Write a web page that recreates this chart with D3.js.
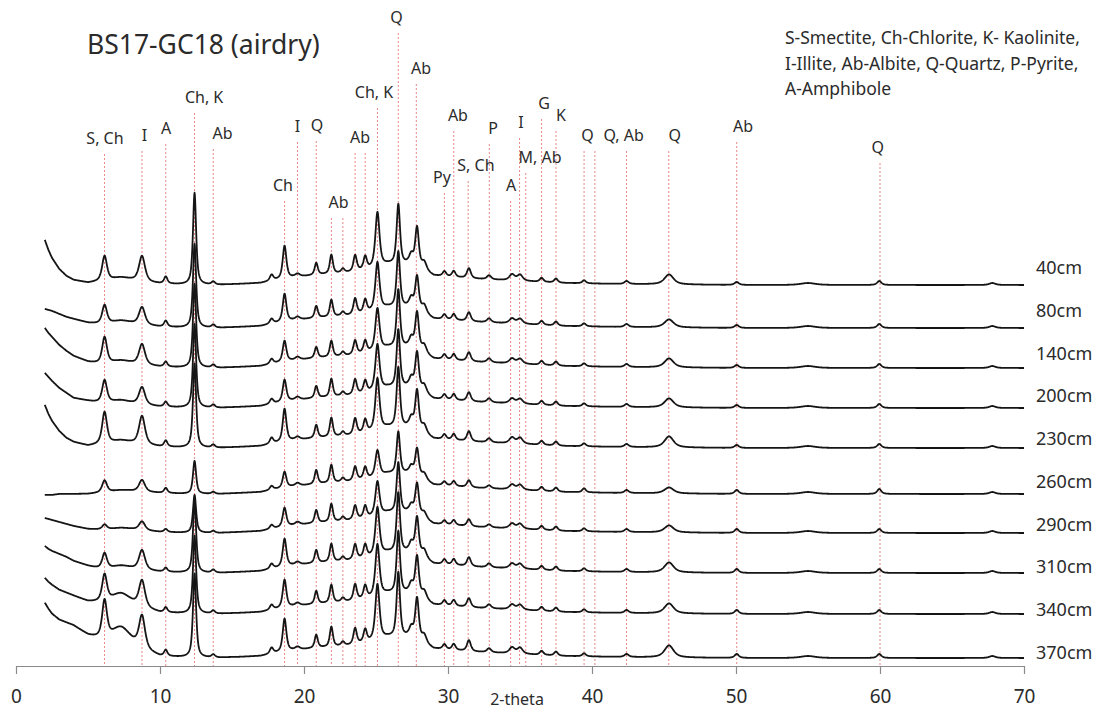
<!DOCTYPE html>
<html>
<head>
<meta charset="utf-8">
<script src="https://cdn.jsdelivr.net/npm/d3@7"></script>
<style>
  html, body { margin: 0; padding: 0; background: #fff; }
  svg { display: block; font-family: "Noto Sans", "Open Sans", sans-serif; }
</style>
</head>
<body>
<svg id="chart" width="1099" height="711"></svg>
<script>
// ---- sample depths and the vertical stacking offset of each pattern (intensity units) ----
const depths  = ["40cm", "80cm", "140cm", "200cm", "230cm", "260cm", "290cm", "310cm", "340cm", "370cm"];
const offsets = [381, 338, 298, 258, 218, 173, 133, 93, 52, 10];

// ---- reflections: position (°2θ) and full width at half maximum (°) ----
const peakPos   = [6.15, 7.3, 8.75, 10.4, 12.4, 13.7, 17.75, 18.65, 19.55, 20.85, 21.9, 22.7, 23.55, 24.25,
                   25.1, 26.55, 27.45, 27.85, 28.35, 29.75, 30.4, 31.45, 32.85, 34.45, 35.0, 36.5, 37.5,
                   39.45, 42.4, 45.35, 50.05, 55.0, 59.95, 67.8];
const peakWidth = [0.4, 1.6, 0.5, 0.28, 0.26, 0.3, 0.3, 0.3, 0.4, 0.26, 0.26, 0.3, 0.28, 0.28,
                   0.34, 0.28, 0.35, 0.3, 0.4, 0.3, 0.3, 0.32, 0.35, 0.45, 0.45, 0.3, 0.3,
                   0.3, 0.35, 0.75, 0.35, 1.2, 0.35, 0.5];

// ---- peak intensities for each depth (same order as peakPos) ----
const int40cm  = [25, 4, 26, 7, 92, 3, 6, 33, 3, 12, 19, 4, 16, 13, 55, 60, 10, 40, 8, 5, 6, 10, 4, 6, 6, 4, 4, 3, 3, 10, 3, 2, 4, 2];
const int80cm  = [19, 4, 18, 6, 84, 3, 5, 28, 3, 12, 17, 4, 16, 13, 48, 56, 10, 34, 8, 5, 6, 9, 4, 5, 5, 4, 4, 3, 3, 8, 3, 2, 4, 2];
const int140cm = [27, 4, 21, 5, 84, 3, 5, 21, 3, 11, 16, 4, 14, 12, 42, 58, 10, 38, 8, 5, 6, 9, 4, 5, 5, 4, 4, 3, 3, 9, 3, 2, 4, 2];
const int200cm = [23, 4, 18, 5, 84, 3, 5, 22, 3, 12, 18, 4, 15, 12, 46, 58, 10, 38, 8, 5, 6, 9, 4, 5, 5, 4, 4, 3, 3, 9, 3, 2, 4, 2];
const int230cm = [32, 4, 29, 6, 84, 3, 6, 33, 3, 13, 19, 4, 16, 13, 52, 60, 10, 40, 8, 5, 6, 10, 4, 6, 6, 4, 4, 3, 3, 11, 3, 2, 4, 2];
const int260cm = [12, 2, 12, 5, 33, 2, 4, 16, 3, 14, 18, 4, 14, 12, 26, 42, 8, 28, 6, 4, 5, 7, 3, 5, 5, 4, 4, 4, 3, 6, 4, 2, 5, 2];
const int290cm = [5, 2, 9, 3, 38, 2, 4, 19, 3, 13, 18, 4, 14, 12, 34, 50, 8, 32, 6, 4, 5, 7, 3, 5, 5, 4, 4, 3, 3, 7, 4, 2, 4, 2];
const int310cm = [16, 4, 20, 4, 72, 3, 5, 28, 3, 13, 18, 4, 15, 13, 48, 60, 10, 38, 8, 5, 6, 9, 4, 5, 5, 4, 4, 3, 3, 10, 4, 2, 4, 2];
const int340cm = [27, 12, 27, 5, 78, 3, 5, 28, 3, 13, 18, 4, 16, 13, 52, 62, 10, 40, 8, 5, 6, 9, 4, 5, 5, 4, 4, 3, 3, 10, 4, 2, 4, 2];
const int370cm = [38, 18, 33, 6, 84, 3, 6, 33, 3, 13, 20, 4, 16, 13, 56, 65, 10, 42, 8, 5, 6, 11, 4, 6, 6, 4, 4, 3, 3, 12, 4, 2, 4, 2];

// ---- low-angle scattering rise for each depth, sampled at lowT (°2θ) ----
const lowT     = [2, 2.25, 2.5, 3, 3.5, 4, 5, 6, 8, 10];
const low40cm  = [42, 32, 24, 13, 6, 2, -1, 0, 0, 0];
const low80cm  = [16, 15, 14, 11, 8, 6, 2, 0, 0, 0];
const low140cm = [37, 32, 28, 20, 14, 9, 3, 0, 0, 0];
const low200cm = [32, 28, 24, 17, 12, 7, 4, 1, 0, 0];
const low230cm = [40, 31, 24, 14, 7, 3, -1, 0, 0, 0];
const low260cm = [-5, -5, -5, -4, -4, -4, -4, -3, -2, -1];
const low290cm = [12, 11, 10, 8, 6, 4, 1, 0, 0, 0];
const low310cm = [24, 21, 19, 16, 13, 9, 4, 0, 0, 0];
const low340cm = [33, 29, 26, 21, 18, 15, 9, 7, 4, 0];
const low370cm = [50, 44, 39, 33, 30, 27, 17, 11, 5, -2];

// ---- common background hump, sampled at bgT (°2θ) ----
const bgT = [2, 6, 8, 10, 12, 14, 17, 19, 21, 23, 24.5, 25.8, 27.2, 28.3, 29, 30, 32, 35, 38, 42, 50, 70];
const bgV = [3, 3, 3, 1, 0, 0, 2, 7, 10, 12, 15, 20, 20, 14, 9, 8, 6, 4, 2, 1, 0, 0];

// ---- mineral reference lines: text, label anchor (°2θ), label level (intensity units) ----
const refLabels = [
  ["S, Ch", 6.18, 522], ["I", 8.93, 525], ["A", 10.42, 532], ["Ch, K", 13.06, 563], ["Ab", 14.34, 527],
  ["Ch", 18.54, 475], ["I", 19.55, 534], ["Q", 20.9, 535], ["Ab", 22.4, 458], ["Ab", 23.9, 523],
  ["Ch, K", 24.86, 568], ["Q", 26.42, 643], ["Ab", 28.13, 592], ["Py", 29.58, 483], ["Ab", 30.69, 545],
  ["S, Ch", 31.94, 495], ["P", 33.13, 532], ["A", 34.38, 475], ["I", 35.07, 538], ["M, Ab", 36.39, 503],
  ["G", 36.67, 557], ["K", 37.85, 545], ["Q", 39.69, 525], ["Q, Ab", 42.2, 525], ["Q", 45.74, 525],
  ["Ab", 50.49, 534], ["Q", 59.84, 513]
];
// line position (°2θ) and the label it hangs from
const refLines = [
  [6.15, 0], [8.75, 1], [10.4, 2], [12.4, 3], [13.7, 4], [18.65, 5], [19.55, 6], [20.85, 7],
  [21.9, 8], [22.7, 8], [23.55, 9], [24.25, 9], [25.1, 10], [26.55, 11], [27.8, 12], [29.75, 13],
  [30.4, 14], [31.4, 15], [32.87, 16], [34.35, 17], [34.97, 18], [35.4, 19], [36.5, 20], [37.5, 21],
  [39.45, 22], [40.2, 23], [42.4, 23], [45.33, 24], [50.05, 25], [60.0, 26]
];

const legendLines = ["S-Smectite, Ch-Chlorite, K- Kaolinite,", "I-Illite, Ab-Albite, Q-Quartz, P-Pyrite,", "A-Amphibole"];
const xTicks = [0, 10, 20, 30, 40, 50, 60, 70];
const titleText = "BS17-GC18 (airdry)";

// ---------------------------------------------------------------------------
const intensities = [int40cm, int80cm, int140cm, int200cm, int230cm, int260cm, int290cm, int310cm, int340cm, int370cm];
const lows = [low40cm, low80cm, low140cm, low200cm, low230cm, low260cm, low290cm, low310cm, low340cm, low370cm];

const svg = d3.select("#chart");
const x = d3.scaleLinear().domain([0, 70]).range([16, 1024]);
const y = d3.scaleLinear().domain([0, 650]).range([666, 16]);

const bgScale = d3.scaleLinear().domain(bgT).range(bgV).clamp(true);

// pseudo-Voigt line shape (mostly Lorentzian), 1 at the peak centre
function shape(t, c, w) {
  const d = (t - c) / (w / 2);
  return 0.7 / (1 + d * d) + 0.3 * Math.exp(-Math.LN2 * d * d);
}

const steps = d3.range(2, 70.0001, 0.02);
const patterns = depths.map((name, i) => {
  const low = d3.scaleLinear().domain(lowT).range(lows[i]).clamp(true);
  const h = intensities[i];
  const pts = steps.map(t => {
    let v = offsets[i] + bgScale(t) + low(t);
    for (let k = 0; k < peakPos.length; k++) {
      if (Math.abs(t - peakPos[k]) < 8) v += h[k] * shape(t, peakPos[k], peakWidth[k]);
    }
    return [t, v];
  });
  return { name, pts };
});

// reference lines (drawn under the patterns)
svg.append("g").attr("class", "ref-lines")
  .selectAll("line").data(refLines).join("line")
  .attr("x1", d => x(d[0])).attr("x2", d => x(d[0]))
  .attr("y1", d => y(refLabels[d[1]][2] - 10))
  .attr("y2", y(0))
  .attr("stroke", "#e57373")
  .attr("stroke-width", 1)
  .attr("stroke-dasharray", "2,2")
  .attr("opacity", 0.85);

// mineral labels
svg.append("g").attr("class", "ref-labels")
  .selectAll("text").data(refLabels).join("text")
  .attr("x", d => x(d[1]))
  .attr("y", d => y(d[2]))
  .attr("text-anchor", "middle")
  .attr("font-size", 16)
  .attr("fill", "#2b2b2b")
  .text(d => d[0]);

// diffraction patterns
const line = d3.line().x(d => x(d[0])).y(d => y(d[1]));
svg.append("g").attr("class", "patterns")
  .selectAll("path").data(patterns).join("path")
  .attr("d", d => line(d.pts))
  .attr("fill", "none")
  .attr("stroke", "#151515")
  .attr("stroke-width", 1.8)
  .attr("stroke-linejoin", "round");

// depth labels at the right end
const labelY = d3.scalePoint().domain(depths).range([274, 659]);
svg.append("g").attr("class", "depth-labels")
  .selectAll("text").data(depths).join("text")
  .attr("x", 1036)
  .attr("y", d => labelY(d))
  .attr("font-size", 18)
  .attr("fill", "#2b2b2b")
  .text(d => d);

// x axis
const axis = svg.append("g")
  .attr("transform", `translate(0,${y(0)})`)
  .call(d3.axisBottom(x).tickValues(xTicks).tickSize(8).tickSizeOuter(0).tickPadding(16).tickFormat(d3.format("d")));
axis.select(".domain").attr("stroke", "#8a8a8a").attr("stroke-width", 1.2);
axis.selectAll(".tick line").attr("stroke", "#8a8a8a").attr("stroke-width", 1.2);
axis.selectAll(".tick text").attr("font-size", 19).attr("fill", "#2b2b2b")
  .attr("font-family", "\"Noto Sans\", sans-serif");

svg.append("text")
  .attr("x", 517).attr("y", 705)
  .attr("text-anchor", "middle")
  .attr("font-size", 16)
  .attr("fill", "#2b2b2b")
  .text("2-theta");

// title
svg.append("text")
  .attr("x", 87).attr("y", 54)
  .attr("font-size", 26.5)
  .attr("fill", "#2b2b2b")
  .text(titleText);

// mineral abbreviation key
svg.append("g").attr("class", "key")
  .selectAll("text").data(legendLines).join("text")
  .attr("x", 785)
  .attr("y", (d, i) => 44 + i * 25.5)
  .attr("font-size", 17.5)
  .attr("fill", "#2b2b2b")
  .text(d => d);
</script>
</body>
</html>
